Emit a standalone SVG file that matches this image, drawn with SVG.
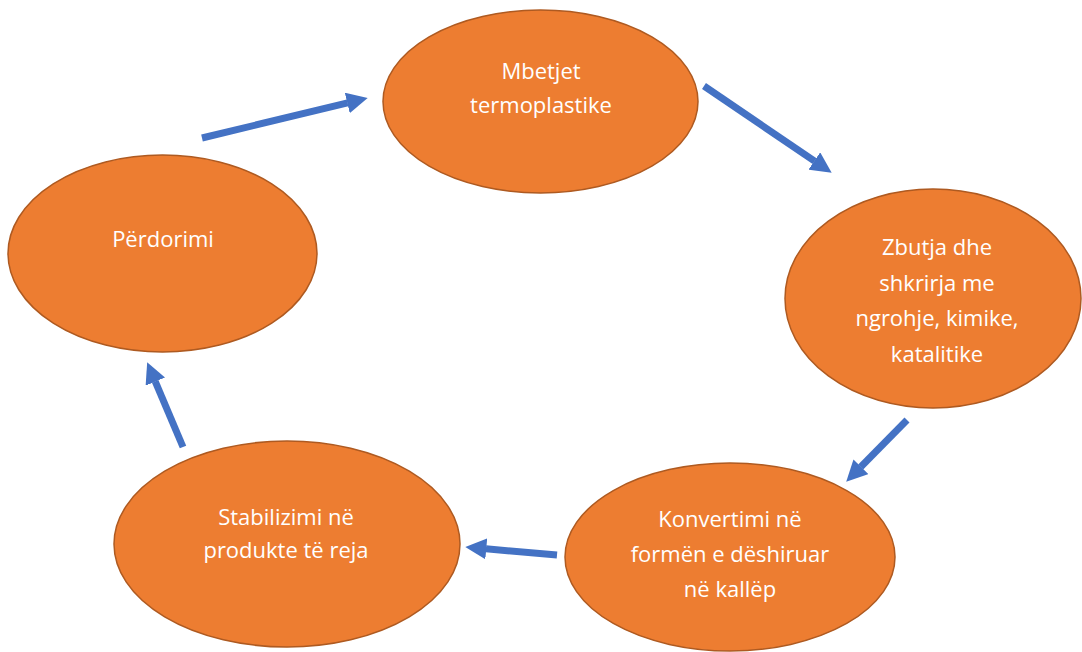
<svg xmlns="http://www.w3.org/2000/svg" width="1082" height="652" viewBox="0 0 1082 652">
<style>
.node ellipse{fill:#ED7D31;stroke:#AE5A21;stroke-width:1.5}
.node text{font-family:"Open Sans","Noto Sans","DejaVu Sans",sans-serif;font-size:22px;fill:#FFFFFF;text-anchor:middle}
.conn line{stroke:#4472C4;stroke-width:7;marker-end:url(#ah)}
</style>
<defs>
<marker id="ah" viewBox="0 0 3 3" markerUnits="strokeWidth" markerWidth="3" markerHeight="3" refX="0.05" refY="1.5" orient="auto">
<path d="M0,0 L3,1.5 L0,3 z" fill="#4472C4"/>
</marker>
</defs>
<rect width="1082" height="652" fill="#FFFFFF"/>
<g id="connectors" class="conn">
<line x1="202" y1="138" x2="347.6" y2="102.9"/>
<line x1="704" y1="86" x2="814.6" y2="161.2"/>
<line x1="907" y1="420" x2="860.7" y2="467"/>
<line x1="557" y1="555" x2="485.9" y2="548.8"/>
<line x1="183" y1="447" x2="155.2" y2="381.3"/>
</g>
<g id="node-mbetjet" class="node">
<ellipse cx="540.5" cy="101.5" rx="157.5" ry="91.5"/>
<text x="541" y="79">Mbetjet</text>
<text x="541" y="113">termoplastike</text>
</g>
<g id="node-zbutja" class="node">
<ellipse cx="933" cy="298.5" rx="148" ry="109.5"/>
<text x="937" y="255">Zbutja dhe</text>
<text x="937" y="291">shkrirja me</text>
<text x="937" y="326">ngrohje, kimike,</text>
<text x="937" y="362">katalitike</text>
</g>
<g id="node-konvertimi" class="node">
<ellipse cx="730" cy="557" rx="165" ry="94"/>
<text x="730" y="527">Konvertimi në</text>
<text x="730" y="562">formën e dëshiruar</text>
<text x="730" y="597">në kallëp</text>
</g>
<g id="node-stabilizimi" class="node">
<ellipse cx="287" cy="544" rx="173" ry="103"/>
<text x="286" y="525">Stabilizimi në</text>
<text x="286" y="558">produkte të reja</text>
</g>
<g id="node-perdorimi" class="node">
<ellipse cx="162.5" cy="253.5" rx="154.5" ry="98.5"/>
<text x="163" y="247">Përdorimi</text>
</g>
</svg>
